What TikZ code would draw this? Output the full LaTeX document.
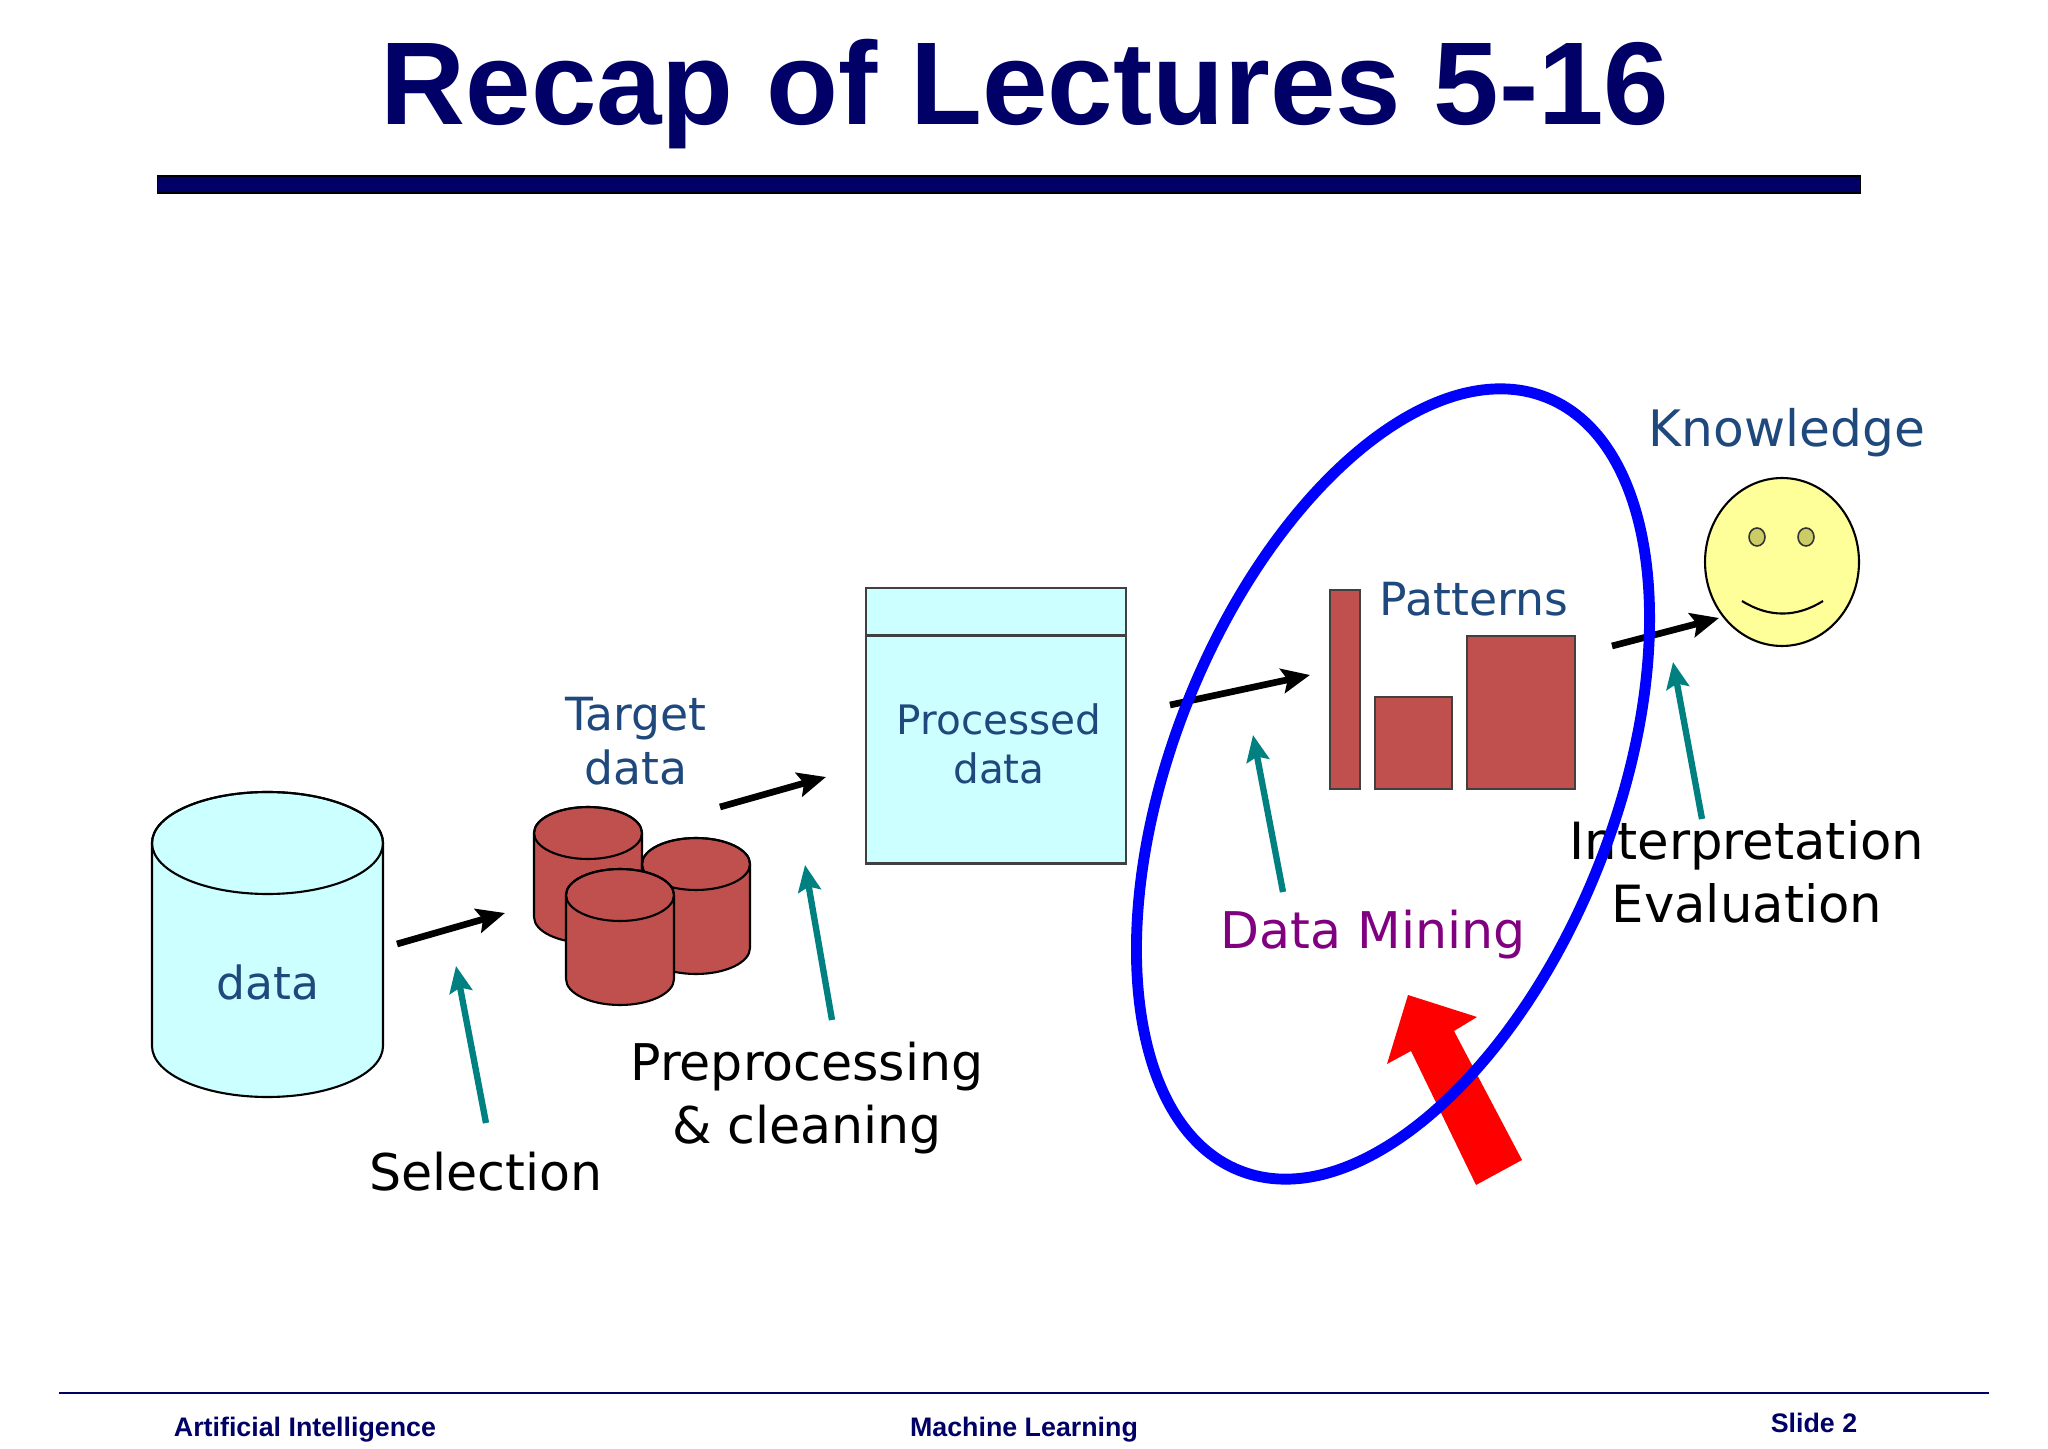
\documentclass[tikz,border=0pt]{standalone}
\usepackage{fontspec}
\setmainfont{DejaVu Sans}
\newfontfamily\headfont{Liberation Sans}
\usepackage{tikz}
\usetikzlibrary{arrows.meta, shapes.geometric, calc, positioning}

\definecolor{navyline}{HTML}{000066}
\definecolor{paleblue}{HTML}{CCFFFF}
\definecolor{brick}{HTML}{C0504D}
\definecolor{inkblue}{HTML}{1F497D}
\definecolor{plum}{HTML}{800080}
\definecolor{tealarrow}{HTML}{008080}
\definecolor{butter}{HTML}{FFFF99}
\definecolor{olive}{HTML}{CCCC66}

\tikzset{
    drumline/.style={draw=black, line width=1.2pt},
    panel/.style={rectangle, draw=black!75, fill=paleblue, line width=1.5pt, inner sep=0pt, minimum width=5.2cm},
    bar/.style={rectangle, draw=black!75, fill=brick, line width=1.3pt, inner sep=0pt},
    steplabel/.style={text=black, font=\fontsize{28.8}{36}\selectfont, align=center, inner sep=0pt},
    itemlabel/.style={text=inkblue, font=\fontsize{26}{31}\selectfont, align=center, inner sep=0pt},
    footlabel/.style={text=navyline, font=\headfont\bfseries\fontsize{15.25}{18}\selectfont, anchor=base, inner sep=0pt},
    flow/.style={draw=black, line width=3.8pt, -{Stealth[length=16pt, width=14pt, inset=3pt]}},
    tealflow/.style={draw=tealarrow, line width=3.6pt, -{Stealth[length=15pt, width=13pt, inset=2.5pt]}}
}

% name, centre x, centre y, x radius, half height, y radius, fill
\newcommand{\drumshape}[7]{
    \coordinate (#1) at (#2,#3);
    \draw[drumline, fill=#7] ({#2-#4},{#3+#5-#6}) -- ({#2-#4},{#3-#5+#6})
        arc[start angle=180, end angle=360, x radius=#4, y radius=#6]
        -- ({#2+#4},{#3+#5-#6})
        arc[start angle=0, end angle=180, x radius=#4, y radius=#6] -- cycle;
    \draw[drumline] ({#2},{#3+#5-#6}) ellipse[x radius=#4, y radius=#6];
}

\begin{document}
\begin{tikzpicture}[x=0.02cm, y=0.02cm]
    \useasboundingbox (0,0) rectangle (2048,1448);

    % heading and footer
    \node[anchor=base, inner sep=0pt, text=navyline, font=\headfont\bfseries\fontsize{67}{70}\selectfont] (title) at (1025,1323) {Recap of Lectures 5-16};
    \node[rectangle, draw=black, fill=navyline, line width=0.6pt, inner sep=0pt, minimum width=34.08cm, minimum height=0.34cm] (titlerule) at (1009,1263.5) {};
    \coordinate (footL) at (59,55);
    \coordinate (footR) at (1989,55);
    \draw[navyline, line width=1.6pt] (footL) -- (footR);
    \node[footlabel] (footA) at (305,12) {Artificial Intelligence};
    \node[footlabel] (footB) at (1024,12) {Machine Learning};
    \node[footlabel] (footC) at (1814,16) {Slide 2};

    % stores
    \drumshape{data}{267.5}{503.5}{115.5}{152.5}{51}{paleblue}
    \node[itemlabel, anchor=base] (datalabel) at (268,449) {data};
    \drumshape{drumA}{588}{573}{54}{68}{26}{brick}
    \drumshape{drumB}{696}{542}{54}{68}{26}{brick}
    \drumshape{drumC}{620}{511}{54}{68}{26}{brick}
    \node[itemlabel] (target) at (636,707) {Target\\data};
    \node[panel, minimum height=0.94cm] (prochead) at (996,836.5) {};
    \node[panel, minimum height=4.56cm] (procbody) at (996,698.5) {};
    \node[itemlabel, font=\fontsize{23.1}{27.5}\selectfont] (proclabel) at (999,704) {Processed\\data};

    % patterns
    \node[bar, minimum width=0.6cm, minimum height=3.98cm] (barA) at (1345,758.5) {};
    \node[bar, minimum width=1.54cm, minimum height=1.84cm] (barB) at (1413.5,705) {};
    \node[bar, minimum width=2.16cm, minimum height=3.06cm] (barC) at (1521,735.5) {};
    \node[itemlabel, anchor=base] (patterns) at (1474,832) {Patterns};

    % knowledge
    \node[ellipse, draw=black, fill=butter, line width=1.2pt, inner sep=0pt, minimum width=3.08cm, minimum height=3.36cm] (face) at (1782,886) {};
    \foreach \n/\x in {eyeL/1757, eyeR/1806} {
        \node[ellipse, draw=black!80, fill=olive, line width=0.9pt, inner sep=0pt, minimum width=0.32cm, minimum height=0.36cm] (\n) at (\x,911) {};
    }
    \coordinate (smileL) at (1742,847);
    \coordinate (smileR) at (1823,847);
    \draw[line width=1.2pt] (smileL) to[bend right=32] (smileR);
    \node[itemlabel, anchor=base, font=\fontsize{28.6}{35}\selectfont] (knowledge) at (1787,1001) {Knowledge};

    % steps
    \node[steplabel, anchor=base] (selection) at (486,258) {Selection};
    \node[steplabel] (preproc) at (807,350) {Preprocessing\\\& cleaning};
    \node[steplabel, anchor=base, text=plum] (mining) at (1373,500) {Data Mining};
    \node[steplabel, font=\fontsize{29.2}{36}\selectfont] (interp) at (1747,576) {Interpretation\\Evaluation};

    \foreach \n/\x/\y in {s1/397/504, t1/505/535, s2/720/641, t2/826/671, s3/1170/743, t3/1310/773, s4/1612/802, t4/1719/830} {
        \coordinate (\n) at (\x,\y);
    }
    \foreach \n/\x/\y in {u1/486/325, v1/456/482, u2/832/428, v2/805/583, u3/1283/556, v3/1253/713, u4/1702/629, v4/1673/786} {
        \coordinate (\n) at (\x,\y);
    }
    \foreach \i in {1,...,4} {
        \draw[flow] (s\i) -- (t\i);
        \draw[tealflow] (u\i) -- (v\i);
    }

    \fill[red] (1408,453) -- (1477,431) -- (1454,417) -- (1522,288) -- (1476,263) -- (1411,397) -- (1387,384) -- cycle;

    % loop goes over everything
    \node[ellipse, draw=blue, line width=6.2pt, inner sep=0pt, rotate=-21.65, minimum width=8.85cm, minimum height=16.64cm] (loop) at (1393,664) {};
\end{tikzpicture}
\end{document}
